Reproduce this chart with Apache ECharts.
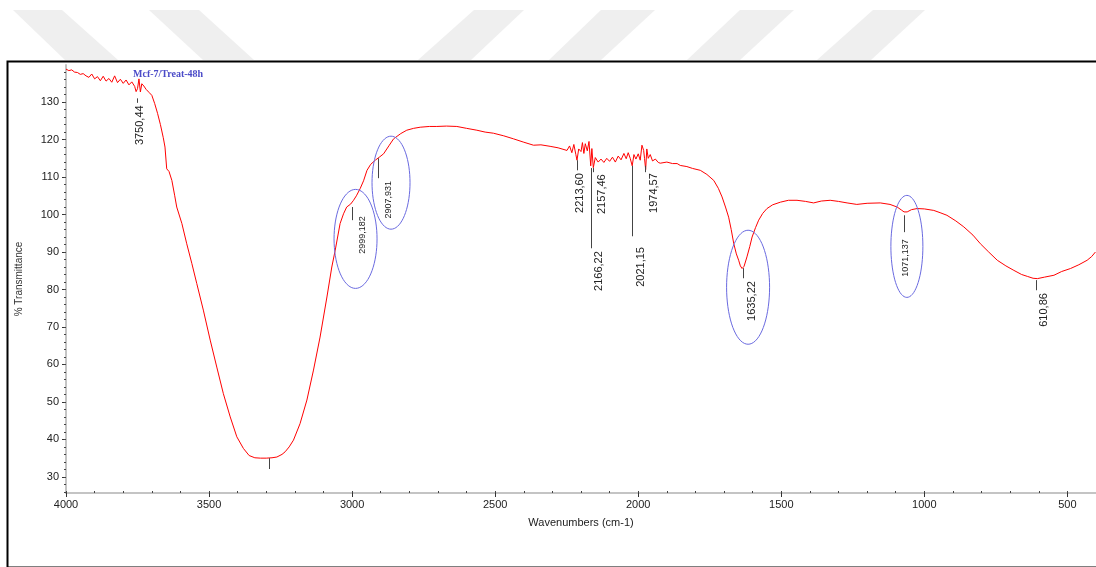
<!DOCTYPE html>
<html>
<head>
    <meta charset="UTF-8">
    <title>Mcf-7/Treat-48h</title>
    <style type="text/css">
        html, body { margin:0; padding:0; background:#fff; }
        #main1 { width:1096px; height:567px; }
    </style>
</head>
<body>
<div id="main1"></div>
<script type="text/javascript" src="https://cdn.jsdelivr.net/npm/echarts@6/dist/echarts.min.js"></script>
<script type="text/javascript">
    // spectrum (cm-1 / %T)
    var wavenumbers = [4000, 3990, 3980, 3970, 3960, 3950, 3940, 3930, 3920, 3910, 3900, 3890, 3880, 3870, 3860, 3850, 3840, 3830, 3820, 3810,
        3800, 3790, 3780, 3770, 3760, 3755, 3750, 3745, 3740, 3735, 3728, 3720, 3710, 3700, 3690, 3680, 3670, 3660, 3654, 3648,
        3640, 3630, 3620, 3613, 3595, 3578, 3560, 3543, 3520, 3496, 3473, 3450, 3426, 3403, 3380, 3360, 3340, 3320, 3300, 3280,
        3263, 3245, 3234, 3220, 3205, 3182, 3158, 3135, 3112, 3088, 3071, 3059, 3042, 3030, 3019, 3005, 2995, 2985, 2972, 2960,
        2948, 2935, 2919, 2905, 2890, 2870, 2855, 2830, 2809, 2785, 2762, 2730, 2704, 2670, 2634, 2600, 2564, 2535, 2506, 2470,
        2436, 2400, 2366, 2340, 2308, 2280, 2249, 2240, 2232, 2225, 2218, 2214, 2208, 2200, 2195, 2190, 2185, 2178, 2172, 2166,
        2162, 2157, 2150, 2140, 2130, 2120, 2110, 2100, 2090, 2080, 2070, 2060, 2050, 2042, 2035, 2028, 2021, 2015, 2008, 2000,
        1993, 1987, 1981, 1978, 1974, 1970, 1965, 1958, 1950, 1940, 1930, 1923, 1900, 1880, 1864, 1853, 1830, 1810, 1783, 1760,
        1736, 1720, 1707, 1695, 1684, 1675, 1666, 1657, 1649, 1643, 1637, 1630, 1620, 1610, 1602, 1590, 1579, 1565, 1550, 1530,
        1503, 1475, 1445, 1415, 1387, 1360, 1329, 1300, 1270, 1236, 1200, 1154, 1120, 1095, 1080, 1071, 1060, 1045, 1025, 1000,
        967, 945, 921, 890, 862, 830, 804, 775, 745, 715, 687, 660, 640, 620, 605, 580, 547, 520, 489, 460,
        431, 415, 402];
    var transmittance = [138.8, 138.4, 138.6, 138.0, 137.9, 137.4, 137.6, 137.0, 136.6, 137.5, 136.2, 136.8, 135.7, 136.9, 135.6, 136.3, 135.3, 137.0, 135.2, 136.1,
        135.0, 135.9, 134.6, 135.4, 134.2, 132.8, 133.6, 136.2, 132.7, 134.9, 134.3, 133.4, 132.6, 131.8, 129.6, 127.0, 124.0, 120.5, 118.0, 112.2,
        111.5, 109.1, 105.0, 102.0, 97.6, 92.2, 86.9, 81.6, 74.5, 66.5, 59.3, 52.2, 46.0, 40.7, 37.6, 35.7, 35.1, 35.0, 35.0, 35.1,
        35.3, 36.0, 36.7, 38.0, 39.8, 44.2, 50.5, 58.5, 67.3, 78.0, 86.0, 90.5, 97.6, 100.2, 102.0, 102.8, 103.8, 105.0, 106.9, 109.0,
        111.8, 113.4, 114.5, 115.3, 116.2, 118.5, 120.2, 121.6, 122.5, 123.0, 123.3, 123.5, 123.5, 123.6, 123.5, 123.0, 122.5, 122.0, 121.7, 121.0,
        120.2, 119.3, 118.5, 118.6, 118.2, 117.8, 117.1, 118.3, 116.5, 118.7, 116.0, 114.5, 117.5, 116.8, 119.2, 116.3, 118.9, 117.0, 119.5, 113.0,
        117.6, 112.5, 115.2, 114.0, 114.8, 113.9, 115.0, 114.2, 115.3, 114.0, 115.6, 114.6, 116.3, 114.9, 116.5, 115.0, 113.0, 116.0, 114.8, 116.2,
        114.5, 118.5, 117.1, 115.0, 112.0, 117.5, 115.0, 116.0, 114.3, 114.8, 113.9, 113.7, 114.0, 113.6, 113.6, 113.1, 112.8, 112.3, 111.8, 110.7,
        109.1, 107.0, 104.7, 102.0, 99.3, 96.0, 92.2, 89.5, 87.8, 86.3, 85.6, 86.2, 88.7, 91.5, 94.0, 96.5, 98.5, 100.3, 101.6, 102.6,
        103.3, 103.8, 103.8, 103.5, 103.1, 103.6, 103.8, 103.5, 103.1, 102.7, 103.0, 103.1, 102.7, 102.0, 101.2, 100.7, 100.7, 101.3, 101.6, 101.5,
        101.1, 100.5, 99.8, 98.3, 96.7, 94.5, 92.2, 90.0, 87.8, 86.3, 85.1, 84.0, 83.5, 83.0, 82.9, 83.3, 83.8, 84.8, 85.6, 86.6,
        87.8, 88.8, 90.0];

    var xTicks = [4000, 3500, 3000, 2500, 2000, 1500, 1000, 500];
    var yTicks = [30, 40, 50, 60, 70, 80, 90, 100, 110, 120, 130];

    // peak labels
    var peakWn = [3750.44, 2999.182, 2907.931, 2213.60, 2166.22, 2157.46, 2021.15, 1974.57, 1635.22, 1071.137, 610.86, 3290];
    var peakText = ['3750,44', '2999,182', '2907,931', '2213,60', '2166,22', '2157,46', '2021,15', '1974,57', '1635,22', '1071,137', '610,86', ''];

    // where each label's leader line and text sit (value units, text shift in px)
    var peakLayout = [
        {y1: 131.0, y2: 129.8, top: 129.4, dx: 2.5, size: 11},
        {y1: 102.0, y2: 98.5, top: 99.8, dx: 10.5, size: 9},
        {y1: 115.0, y2: 109.7, top: 109.2, dx: 10, size: 9},
        {y1: 114.5, y2: 111.8, top: 111.3, dx: 3, size: 11},
        {y1: 112.4, y2: 91.0, top: 90.5, dx: 8, size: 11},
        {y1: 112.4, y2: 111.3, top: 111.0, dx: 9, size: 11},
        {y1: 113.0, y2: 94.2, top: 91.6, dx: 9, size: 11},
        {y1: 113.0, y2: 111.3, top: 111.3, dx: 8.5, size: 11},
        {y1: 85.7, y2: 83.0, top: 82.5, dx: 9, size: 11},
        {y1: 99.8, y2: 95.3, top: 93.7, dx: 2, size: 9},
        {y1: 82.5, y2: 79.8, top: 79.3, dx: 8, size: 11},
        {y1: 35.0, y2: 32.1, top: 32.1, dx: 0, size: 11}
    ];

    // blue rings round some bands: centre (cm-1, %T) and radii in px
    var rings = [
        {wn: 2988, t: 93.5, rx: 21.5, ry: 49.5},
        {wn: 2864, t: 108.5, rx: 19, ry: 46.5},
        {wn: 1616, t: 80.6, rx: 21.5, ry: 57},
        {wn: 1061, t: 91.5, rx: 16, ry: 51}
    ];

    var minorX = [];
    for (var w = 400; w <= 4000; w += 100) minorX.push(w);
    var minorY = [];
    for (var v = 26; v <= 138; v += 2) minorY.push(v);

    var spectrum = [];
    for (var i = 0; i < wavenumbers.length; i++) {
        spectrum.push([wavenumbers[i], transmittance[i]]);
    }

    var font = '"Liberation Sans", Arial, sans-serif';

    // light watermark stripes over the top of the page
    var stripes = [
        [[13, 10], [62, 10], [118, 60], [65, 60]],
        [[149, 10], [199, 10], [254, 60], [203, 60]],
        [[474, 10], [524, 10], [471, 60], [418, 60]],
        [[601, 10], [655, 10], [601, 60], [549, 60]],
        [[740, 10], [794, 10], [740, 60], [687, 60]],
        [[873, 10], [925, 10], [871, 60], [817, 60]]
    ];
    var graphics = stripes.map(function (p) {
        return {type: 'polygon', shape: {points: p}, style: {fill: '#efefef'}, z: -10, silent: true};
    });
    graphics.push({
        type: 'rect', left: 5, top: 59,
        shape: {x: 0, y: 0, width: 1110, height: 506},
        style: {fill: 'none', stroke: '#000', lineWidth: 2}, z: -5, silent: true
    });

    var myChart1 = echarts.init(document.getElementById('main1'));
    var option1 = {
        animation: false,
        backgroundColor: '#fff',
        title: {
            text: 'Mcf-7/Treat-48h',
            left: 128, top: 64,
            textStyle: {fontFamily: '"Liberation Serif", "Times New Roman", serif', fontWeight: 'bold', fontSize: 10, color: '#4b4bc8'}
        },
        graphic: graphics,
        grid: {left: 66, right: 0, top: 65, bottom: 74, containLabel: false, outerBoundsMode: 'none'},
        xAxis: [{
            type: 'value', min: 400, max: 4000, inverse: true,
            name: 'Wavenumbers (cm-1)', nameLocation: 'middle', nameGap: 24,
            nameTextStyle: {fontFamily: font, fontSize: 11, color: '#222'},
            axisLine: {lineStyle: {color: '#c4c4c4', width: 2}},
            axisTick: {customValues: xTicks, length: 4, lineStyle: {color: '#333'}},
            axisLabel: {
                customValues: xTicks, fontFamily: font, fontSize: 11, color: '#222', margin: 6,
                formatter: function (val) { return String(val); }
            },
            splitLine: {show: false}
        }, {
            type: 'value', min: 400, max: 4000, inverse: true, position: 'bottom',
            axisLine: {show: false},
            axisTick: {customValues: minorX, inside: true, length: 2, lineStyle: {color: '#444'}},
            axisLabel: {show: false},
            splitLine: {show: false}
        }],
        yAxis: [{
            type: 'value', min: 25.7, max: 139.9,
            name: '% Transmittance', nameLocation: 'middle', nameGap: 42, nameRotate: 90,
            nameTextStyle: {fontFamily: font, fontSize: 10, color: '#333'},
            axisLine: {show: true, lineStyle: {color: '#c4c4c4', width: 2}},
            axisTick: {show: true, customValues: yTicks, length: 4, lineStyle: {color: '#333'}},
            axisLabel: {
                customValues: yTicks, fontFamily: font, fontSize: 11, color: '#222', margin: 7,
                formatter: function (val) { return String(val); }
            },
            splitLine: {show: false}
        }, {
            type: 'value', min: 25.7, max: 139.9, position: 'left',
            axisLine: {show: false},
            axisTick: {show: true, customValues: minorY, length: 2, lineStyle: {color: '#444'}},
            axisLabel: {show: false},
            splitLine: {show: false}
        }],
        series: [{
            name: 'Mcf-7/Treat-48h',
            type: 'line',
            data: spectrum,
            showSymbol: false,
            lineStyle: {color: '#ff0000', width: 1},
            z: 3
        }, {
            type: 'custom',
            data: peakWn.map(function (wn, k) { return [wn, peakLayout[k].y1, k]; }),
            clip: false,
            z: 4,
            renderItem: function (params, api) {
                var k = api.value(2);
                var lay = peakLayout[k];
                var wn = peakWn[k];
                var p1 = api.coord([wn, lay.y1]);
                var p2 = api.coord([wn, lay.y2]);
                var pt = api.coord([wn, lay.top]);
                var kids = [{
                    type: 'line',
                    shape: {x1: Math.round(p1[0]) + 0.5, y1: p1[1], x2: Math.round(p2[0]) + 0.5, y2: p2[1]},
                    style: {stroke: '#444', lineWidth: 1}
                }];
                if (peakText[k]) {
                    kids.push({
                        type: 'text',
                        x: pt[0] + lay.dx, y: pt[1] + 1,
                        rotation: Math.PI / 2,
                        style: {
                            text: peakText[k], fill: '#222',
                            font: lay.size + 'px ' + font,
                            align: 'right', verticalAlign: 'middle'
                        }
                    });
                }
                return {type: 'group', children: kids};
            }
        }, {
            type: 'custom',
            data: rings.map(function (r, k) { return [r.wn, r.t, k]; }),
            clip: false,
            z: 5,
            renderItem: function (params, api) {
                var r = rings[api.value(2)];
                var c = api.coord([r.wn, r.t]);
                var pts = [];
                for (var a = 0; a < 72; a++) {
                    var ang = a / 72 * Math.PI * 2;
                    pts.push([c[0] + r.rx * Math.cos(ang), c[1] + r.ry * Math.sin(ang)]);
                }
                return {
                    type: 'polygon',
                    shape: {points: pts},
                    style: {fill: 'none', stroke: '#6a6ae0', lineWidth: 1}
                };
            }
        }]
    };
    myChart1.setOption(option1);
</script>
</body>
</html>
